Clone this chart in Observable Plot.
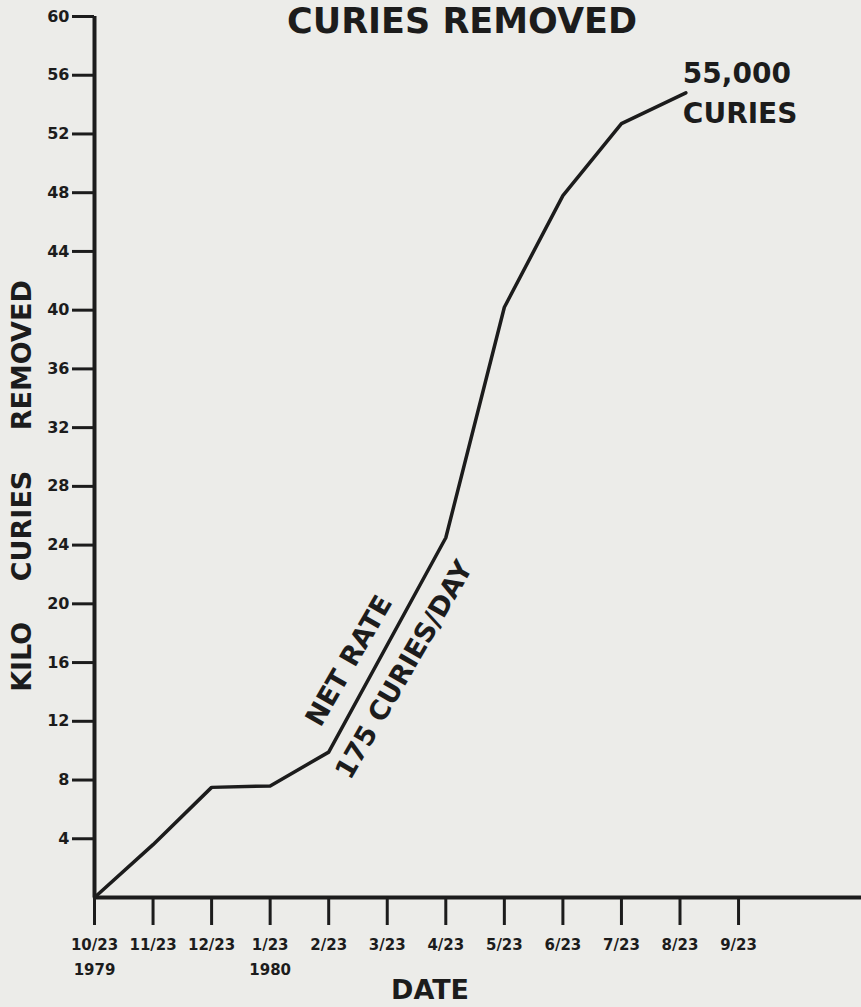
<!DOCTYPE html>
<html>
<head>
<meta charset="utf-8">
<script src="https://cdn.jsdelivr.net/npm/d3@7"></script>
<script src="https://cdn.jsdelivr.net/npm/@observablehq/plot@0.6"></script>
<style>
  html, body { margin: 0; padding: 0; background: #ecece9; }
  #chart svg { display: block; }
</style>
</head>
<body>
<div id="chart"></div>
<script>
// Month tick labels (month index 0 = 10/23/1979)
const monthLabels = ["10/23\n1979", "11/23", "12/23", "1/23\n1980", "2/23", "3/23", "4/23", "5/23", "6/23", "7/23", "8/23", "9/23"];
const monthIndex = [0, 1, 2, 3, 4, 5, 6, 7, 8, 9, 10, 11];

// Curve points: month offset and kilo curies removed
const pointMonths = [0, 1, 2, 3, 4, 6, 7, 8, 9, 10.1];
const kiloCuries  = [0, 3.6, 7.5, 7.6, 9.9, 24.5, 40.2, 47.8, 52.7, 54.8];

const yTicks = [4, 8, 12, 16, 20, 24, 28, 32, 36, 40, 44, 48, 52, 56, 60];

const titleText = "CURIES REMOVED";
const yLabelText = "KILO\u2003\u2002CURIES\u2003\u2002REMOVED";
const xLabelText = "DATE";
const endLabel = "55,000\nCURIES";
const rateLabelTop = "NET RATE";
const rateLabelBottom = "175 CURIES/DAY";

const points = pointMonths.map((m, i) => ({m, v: kiloCuries[i]}));
const last = points[points.length - 1];
// midpoint of the net-rate segment (2/23 -> 4/23)
const segA = points[4], segB = points[5];
const rateMid = {m: (segA.m + segB.m) / 2, v: (segA.v + segB.v) / 2};

const ink = "#1c1c1c";
const font = "DejaVu Sans";

const chart = Plot.plot({
  width: 861,
  height: 1007,
  marginTop: 16,
  marginBottom: 110,
  marginLeft: 94,
  marginRight: 0,
  style: {background: "#ecece9", color: ink, fontFamily: font},
  x: {domain: [0, 13.1]},
  y: {domain: [0, 60]},
  marks: [
    Plot.axisY({ticks: yTicks, tickSize: 22, tickPadding: 3, fontSize: 16, fontWeight: "bold", strokeWidth: 3, label: null}),
    Plot.axisX({ticks: monthIndex, tickFormat: (i) => monthLabels[i], tickSize: 28, tickPadding: 6, fontSize: 15, fontWeight: "bold", strokeWidth: 3, label: null, lineHeight: 1.7}),
    Plot.ruleY([0], {stroke: ink, strokeWidth: 4}),
    Plot.ruleX([0], {stroke: ink, strokeWidth: 4}),
    Plot.line(points, {x: "m", y: "v", stroke: ink, strokeWidth: 3.5, strokeLinejoin: "round", strokeLinecap: "round"}),
    Plot.text([titleText], {frameAnchor: "top", lineAnchor: "top", dx: -16, dy: -8, fontSize: 35, fontWeight: "bold", fill: ink}),
    Plot.text([yLabelText], {frameAnchor: "left", textAnchor: "middle", rotate: -90, dx: -72, dy: 29, fontSize: 27, fontWeight: "bold", fill: ink}),
    Plot.text([xLabelText], {frameAnchor: "bottom", lineAnchor: "top", dx: -48, dy: 82, fontSize: 27, fontWeight: "bold", fill: ink}),
    Plot.text([last], {x: "m", y: "v", text: () => endLabel, textAnchor: "start", lineAnchor: "top", dx: -3, dy: -38, fontSize: 28, fontWeight: "bold", lineHeight: 1.43, fill: ink}),
    Plot.text([rateMid], {x: "m", y: "v", text: () => rateLabelTop, rotate: -60, dx: -38, dy: 16, fontSize: 27, fontWeight: "bold", fill: ink}),
    Plot.text([rateMid], {x: "m", y: "v", text: () => rateLabelBottom, rotate: -60, dx: 17, dy: 25, fontSize: 27, fontWeight: "bold", fill: ink})
  ]
});
document.getElementById("chart").append(chart);
</script>
</body>
</html>
